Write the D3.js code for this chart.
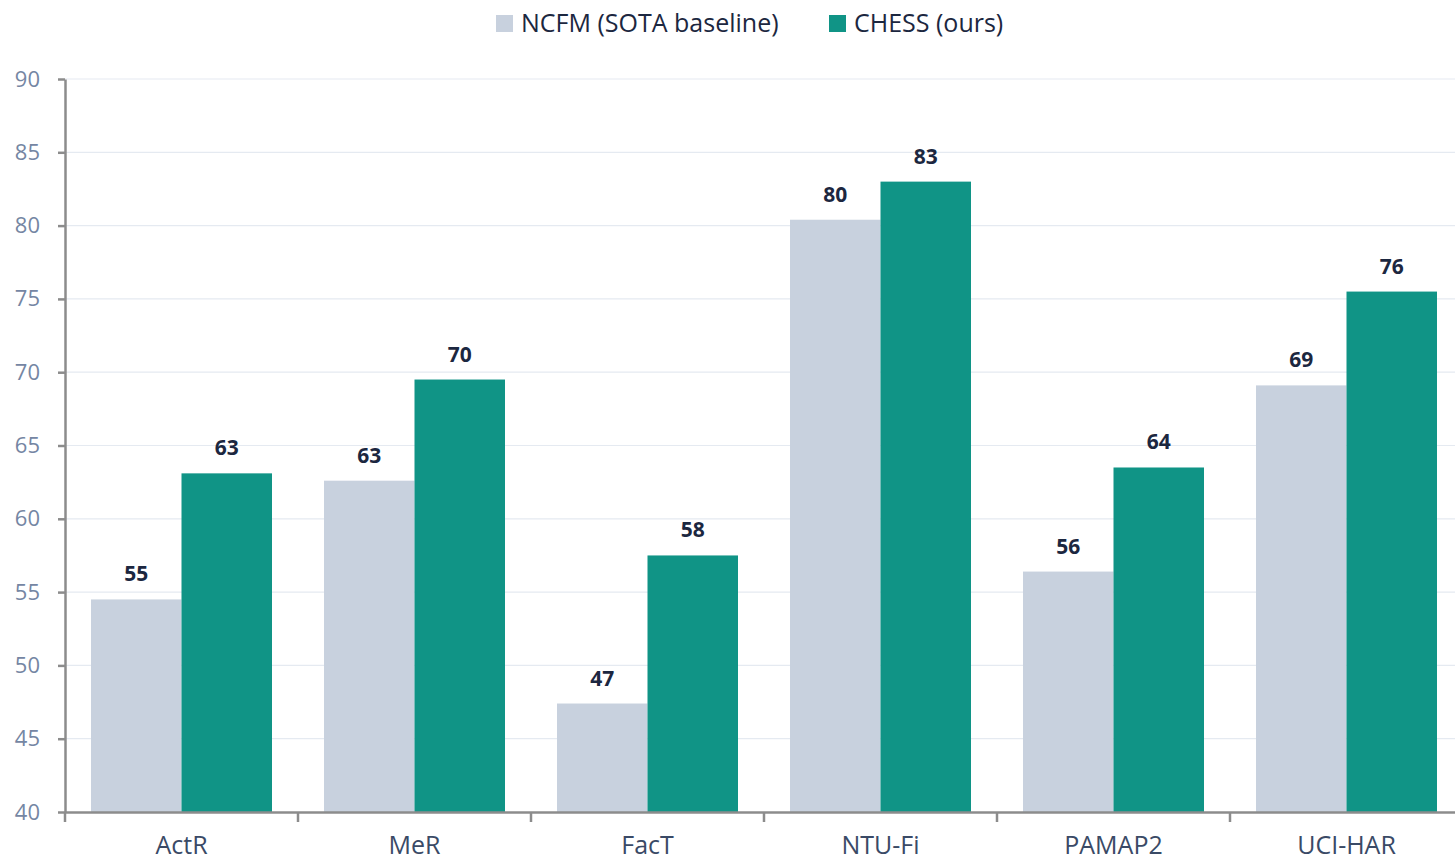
<!DOCTYPE html>
<html>
<head>
<meta charset="utf-8">
<script src="https://cdn.jsdelivr.net/npm/d3@7"></script>
<style>
  body { margin: 0; background: #fff; }
  svg { display: block; font-family: "Open Sans", sans-serif; }
</style>
</head>
<body>
<div id="chart"></div>
<script>
// Data
const categories = ["ActR", "MeR", "FacT", "NTU-Fi", "PAMAP2", "UCI-HAR"];
const seriesNames = ["NCFM (SOTA baseline)", "CHESS (ours)"];
const ncfm = [54.5, 62.6, 47.4, 80.4, 56.4, 69.1];
const chess = [63.1, 69.5, 57.5, 83.0, 63.5, 75.5];
const yTicks = [40, 45, 50, 55, 60, 65, 70, 75, 80, 85, 90];
const colors = ["#c8d1de", "#109486"];

const width = 1455, height = 862;
const margin = {top: 79, left: 65, bottom: 50};
const bandW = 233;

const svg = d3.select("#chart")
  .append("svg")
  .attr("width", width)
  .attr("height", height);

const rows = categories.map((c, i) => ({cat: c, values: [ncfm[i], chess[i]]}));

// Scales
const x = d3.scaleBand()
  .domain(categories)
  .range([margin.left, margin.left + bandW * categories.length])
  .padding(0);

const x1 = d3.scaleBand()
  .domain(d3.range(seriesNames.length))
  .range([26, bandW - 26])
  .padding(0);

const y = d3.scaleLinear()
  .domain([40, 90])
  .range([height - margin.bottom, margin.top]);

// Grid lines
svg.append("g")
  .selectAll("line")
  .data(yTicks.slice(1))
  .join("line")
  .attr("x1", margin.left)
  .attr("x2", width)
  .attr("y1", d => y(d))
  .attr("y2", d => y(d))
  .attr("stroke", "#e5eaf1")
  .attr("stroke-width", 1.2);

// Bars
const groups = svg.append("g")
  .selectAll("g")
  .data(rows)
  .join("g")
  .attr("transform", d => `translate(${x(d.cat)},0)`);

groups.selectAll("rect")
  .data(d => d.values)
  .join("rect")
  .attr("x", (d, i) => x1(i))
  .attr("y", d => y(d))
  .attr("width", x1.bandwidth())
  .attr("height", d => y(40) - y(d))
  .attr("fill", (d, i) => colors[i]);

// Value labels
groups.selectAll("text")
  .data(d => d.values)
  .join("text")
  .attr("x", (d, i) => x1(i) + x1.bandwidth() / 2)
  .attr("y", d => y(d) - 18)
  .attr("text-anchor", "middle")
  .style("font-size", "21px")
  .style("font-weight", "bold")
  .style("fill", "#1c2740")
  .text(d => Math.round(d));

// Y axis
const yAxis = svg.append("g")
  .attr("transform", `translate(${margin.left},0)`)
  .call(d3.axisLeft(y).tickValues(yTicks).tickSize(7).tickPadding(18).tickSizeOuter(0));
yAxis.select(".domain").attr("stroke", "#8c8c8c").attr("stroke-width", 2.5);
yAxis.selectAll(".tick line").attr("stroke", "#8c8c8c").attr("stroke-width", 2.5);
yAxis.selectAll(".tick text")
  .style("font-size", "22px")
  .style("font-family", "Open Sans, sans-serif")
  .style("fill", "#7586a3");

// X axis
const xAxis = svg.append("g")
  .attr("transform", `translate(0,${y(40)})`)
  .call(d3.axisBottom(x).tickSize(0).tickPadding(24).tickSizeOuter(0));
xAxis.select(".domain").attr("stroke", "#8c8c8c").attr("stroke-width", 2.5);
xAxis.selectAll(".tick text")
  .style("font-size", "25px")
  .style("font-family", "Open Sans, sans-serif")
  .style("fill", "#3a4a66");

// X tick marks at band boundaries
svg.append("g")
  .selectAll("line")
  .data(categories)
  .join("line")
  .attr("x1", d => x(d))
  .attr("x2", d => x(d))
  .attr("y1", y(40))
  .attr("y2", y(40) + 10)
  .attr("stroke", "#8c8c8c")
  .attr("stroke-width", 2.5);

// Legend
const legendItems = [{name: seriesNames[0], x: 496}, {name: seriesNames[1], x: 829}];
const legend = svg.append("g")
  .selectAll("g")
  .data(legendItems)
  .join("g")
  .attr("transform", d => `translate(${d.x},15)`);

legend.append("rect")
  .attr("width", 17)
  .attr("height", 17)
  .attr("fill", (d, i) => colors[i]);

legend.append("text")
  .attr("x", 25)
  .attr("y", 17)
  .style("font-size", "25px")
  .style("fill", "#1c2740")
  .text(d => d.name);
</script>
</body>
</html>
